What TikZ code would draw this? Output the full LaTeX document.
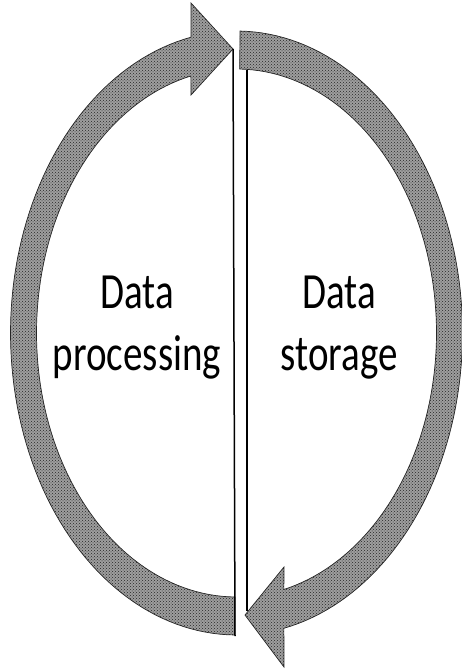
\documentclass[tikz,border=0pt]{standalone}
\usepackage{fontspec}
\setmainfont{Carlito}
\usetikzlibrary{patterns}
\tikzset{
  band/.style={fill=black!38, draw=black!85, line width=0.7pt, line join=miter,
    postaction={pattern=crosshatch dots, pattern color=black!85}},
  divider/.style={draw=black, line cap=butt},
  lbl/.style={font=\fontsize{39}{47.7}\selectfont, inner sep=0pt}
}
\begin{document}
\begin{tikzpicture}[x=1pt,y=-1pt]
\useasboundingbox (0,0) rectangle (462,669);
% centre of the ring and radii of its outer and inner edges
\def\ringx{236.5}\def\ringy{333}
\def\outrx{226}\def\outry{302}
\def\inrx{200}\def\inry{264}

% left arrow: from the bottom, up the left side, head pointing right at the top
\path[band]
  plot[domain=90.4:258.4,samples=90] ({\ringx+\outrx*cos(\x)},{\ringy+\outry*sin(\x)})
  -- (191,3) -- (233,49) -- (191,95)
  -- plot[domain=256.8:90.4,samples=90] ({\ringx+\inrx*cos(\x)},{\ringy+\inry*sin(\x)})
  -- cycle;

% right arrow: from the top, down the right side, head pointing left at the bottom
\path[band]
  plot[domain=-89.1:77.9,samples=90] ({\ringx+\outrx*cos(\x)},{\ringy+\outry*sin(\x)})
  -- (284,667) -- (245,615) -- (284,567)
  -- plot[domain=76.3:-89.1,samples=90] ({\ringx+\inrx*cos(\x)},{\ringy+\inry*sin(\x)})
  -- cycle;

% the two dividing lines
\coordinate (tipL) at (233,49);
\coordinate (endL) at (235,636);
\coordinate (startR) at (247,70);
\coordinate (tipR) at (247,611);
\draw[divider, line width=1.5pt] (tipL) -- (endL);
\draw[divider, line width=2.2pt] (startR) -- (tipR);

% labels
\node[lbl] (proc) at (137,326.6)
  {\scalebox{1}[1.3]{\begin{tabular}{@{}c@{}}Data\\processing\end{tabular}}};
\node[lbl] (stor) at (339,326.6)
  {\scalebox{1}[1.3]{\begin{tabular}{@{}c@{}}Data\\storage\end{tabular}}};
\end{tikzpicture}
\end{document}
